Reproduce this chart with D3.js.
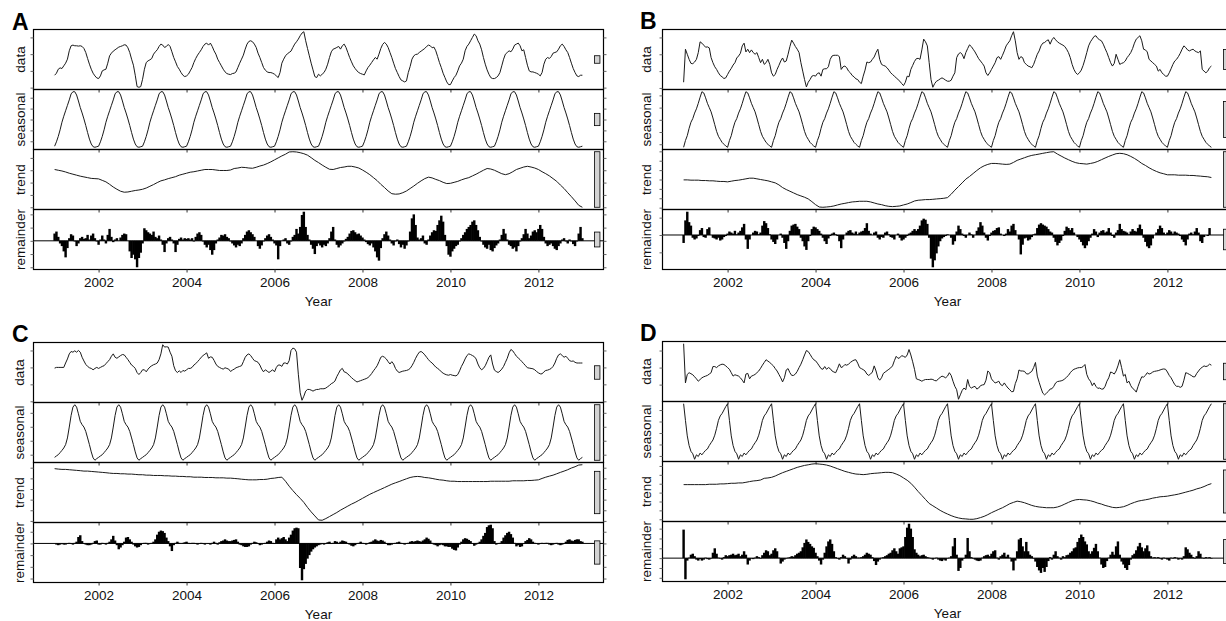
<!DOCTYPE html>
<html>
<head>
<meta charset="utf-8">
<script src="https://d3js.org/d3.v7.min.js"></script>
<style>
body { margin: 0; background: #fff; }
svg { display: block; font-family: "Liberation Sans", Arial, sans-serif; }
</style>
</head>
<body>
<div id="chart"></div>
<script>
// four STL decompositions, 24 obs per year from 2001.0 to 2013.0
var startYear = 2001, perYear = 24, trendPerYear = 12;
var years = [2002, 2004, 2006, 2008, 2010, 2012];
var rowNames = ["data", "seasonal", "trend", "remainder"];

// ---------- A ----------
var aData = [
37,43,55,59,57,65,73,85,110,125,127,125,125,124,125,123,117,105,87,70,55,43,35,29,
27,35,50,53,55,73,95,103,109,113,117,121,123,125,128,127,119,105,85,67,37,3,1,3,
25,55,75,80,83,87,100,107,113,123,130,127,120,123,129,123,107,90,77,63,55,45,37,33,
35,40,50,60,75,87,97,105,113,123,130,133,127,133,123,110,100,85,75,65,55,47,42,40,
39,42,43,47,60,73,85,97,115,130,138,140,137,130,120,103,90,75,60,52,47,45,45,43,
40,35,30,45,73,85,95,101,105,109,120,130,137,145,155,163,167,140,117,95,73,53,33,30,
40,35,40,45,55,70,90,107,115,117,120,123,115,125,130,120,105,90,77,65,57,50,45,42,
40,38,50,60,67,75,83,90,85,100,117,129,135,130,120,105,90,73,57,45,33,23,20,17,
20,45,63,85,95,99,100,105,109,113,117,123,127,125,119,121,110,93,75,60,43,30,17,9,
9,20,30,37,50,65,73,85,110,123,130,140,150,160,155,140,130,113,90,70,53,40,30,27,
27,30,35,45,65,85,100,105,110,107,115,127,130,133,125,110,113,90,67,50,47,47,45,43,
40,35,45,70,85,90,87,93,103,105,107,115,125,130,123,113,105,90,73,57,45,35,33,37,37
];
// periodic seasonal: one year, repeated every year
var aSeasonalCycle = [-49,-41,-31,-19,-5,6,16,26,36,47,51,51,45,34,22,12,1,-11,-24,-36,-45,-50,-51,-50];
var aTrend = [
15.3,15.0,14.7,14.3,13.8,13.4,13.0,12.6,12.3,12.0,11.7,11.6,
11.5,10.9,10.3,9.3,8.2,7.3,6.5,6.1,6.2,6.5,6.8,7.0,
7.3,7.8,8.5,9.2,10.0,10.7,11.1,11.6,12.0,12.4,13.0,13.4,
13.8,14.2,14.4,14.7,15.0,15.3,15.3,15.3,15.1,14.9,14.9,14.9,
15.1,15.7,15.9,16.2,16.1,15.9,15.8,16.2,16.7,17.1,17.7,18.4,
19.2,20.0,20.8,21.5,22.4,22.5,22.4,22.1,21.7,21.1,20.1,19.0,
18.1,17.1,16.2,15.4,15.3,15.7,16.1,16.3,16.6,16.6,16.3,15.9,
15.1,14.2,13.2,12.0,10.8,9.3,8.0,6.6,5.5,5.3,5.4,5.9,
6.6,7.6,8.6,9.7,10.7,11.6,12.2,11.9,11.3,10.8,10.1,9.6,
9.7,10.1,10.5,11.1,11.6,12.0,12.7,13.4,14.2,15.0,15.7,15.5,
15.0,14.3,13.6,13.2,13.6,14.4,15.3,15.8,16.3,16.6,16.3,15.9,
15.3,14.4,13.6,12.7,11.6,10.5,9.0,7.6,5.9,4.3,2.6,0.8,
0
];
var aRemainder = [
11,14,6,-4,-8,-16,-25,-11,4,10,8,-1,-8,-4,4,6,3,4,9,2,8,11,4,-1,
-6,2,8,2,-4,9,18,6,-2,2,4,0,5,9,11,10,0,-16,-26,-21,-28,-40,-26,-18,
-4,19,16,13,11,9,14,6,4,8,2,-6,-17,-4,4,6,2,-4,-17,-6,3,5,2,4,
3,4,2,4,-1,6,11,13,9,-1,-6,-10,-6,-14,-21,-14,-4,2,5,9,8,10,6,4,
-1,-4,-7,-10,-6,-8,-4,4,9,14,16,13,10,6,0,-8,-12,-7,-1,4,8,10,6,2,
-4,-7,-28,-8,0,2,4,-4,-6,-1,6,9,18,11,21,39,44,21,9,2,-6,-12,-20,-8,
-4,-7,-10,-6,-8,-4,4,14,21,2,-6,-10,-7,-4,-1,3,6,11,15,16,13,10,11,8,
5,2,-2,-5,-7,-4,-10,-16,-25,-30,-11,4,10,14,8,2,-4,-7,-1,2,-5,-10,-6,-12,
-7,-1,14,34,40,24,5,2,4,8,-4,-6,2,8,13,16,15,24,31,38,29,9,-8,-21,
-24,-16,-12,-8,-6,-1,4,9,13,18,21,24,29,31,24,16,6,-1,-6,-10,-12,-6,-14,-16,
-11,-7,-4,2,9,18,11,2,-6,-8,-12,-10,-16,-8,-1,4,10,18,11,4,8,14,16,13,
18,24,18,6,-4,-8,-6,-4,-8,-12,-14,-8,-4,2,4,-1,-4,2,-1,-5,-8,-1,11,21,4
];

// ---------- B ----------
var bData = [
17,115,100,85,73,72,77,85,105,137,133,127,121,122,119,90,75,63,55,45,37,33,28,30,
40,50,58,68,75,89,95,103,125,133,107,115,105,113,105,100,105,90,75,85,70,75,85,70,
45,35,40,55,67,80,89,77,80,100,123,142,133,123,115,105,75,50,25,3,17,25,35,37,
35,43,45,35,55,57,57,63,85,95,97,97,97,93,55,63,65,60,50,45,37,33,27,25,
17,13,35,53,77,75,77,85,92,105,115,85,70,67,65,60,53,45,40,35,30,25,20,13,
7,17,35,33,55,67,79,87,88,85,113,145,137,125,75,25,2,13,20,23,27,30,27,23,
20,20,23,35,45,90,101,105,100,87,105,117,128,123,115,107,97,87,80,73,65,45,37,45,
55,65,75,90,93,85,97,110,125,133,140,155,167,140,105,85,93,90,75,70,65,63,60,70,
85,100,110,125,133,135,140,143,130,143,150,143,137,133,130,127,123,115,105,90,70,55,45,40,
45,53,67,85,105,125,137,145,153,155,147,143,140,130,117,105,90,75,65,73,100,85,70,73,
75,80,90,97,105,117,133,145,150,155,140,115,113,107,85,80,75,70,65,50,55,45,40,35,
35,45,57,70,80,85,93,103,115,125,120,113,110,113,115,110,107,105,110,55,50,45,50,60,65
];
var bSeasonalCycle = [-45,-34,-26,-14,-4,2,11,18,27,37,46,44,36,27,20,13,3,-8,-19,-27,-32,-37,-40,-43];
var bTrend = [
29.6,29.6,29.3,29.3,29.3,28.9,28.9,28.6,28.6,28.2,27.9,27.9,
27.5,28.2,28.9,29.3,30.0,30.7,31.4,31.4,30.7,30.0,29.3,28.6,
27.5,26.4,24.3,21.4,19.3,17.5,15.7,13.9,12.5,11.1,9.3,6.4,
3.2,0.7,0.4,0.7,1.1,1.8,2.9,3.9,4.6,5.4,6.1,6.4,
6.8,6.8,6.8,6.1,5.0,3.9,3.2,2.1,1.4,1.1,1.4,1.8,
2.9,3.9,5.4,7.1,7.9,8.2,8.6,8.6,8.9,9.3,9.6,10.0,
10.7,14.3,18.6,22.5,26.4,30.4,33.2,36.4,39.6,42.5,44.6,46.1,
47.1,47.1,46.8,46.4,46.1,46.4,48.2,50.4,51.8,53.2,54.6,55.7,
56.4,57.1,57.9,58.6,59.3,59.6,57.1,55.0,52.9,51.1,49.3,47.9,
47.1,46.8,46.4,47.1,47.9,49.3,51.1,52.9,54.6,56.1,57.5,57.9,
57.5,56.4,54.6,52.5,50.0,47.1,45.0,42.5,40.4,38.6,37.1,36.1,
35.0,35.0,35.0,34.6,34.6,34.6,34.3,34.3,33.9,33.6,33.2,32.9,
32.1
];
var bRemainder = [
-23,42,67,37,27,-8,-13,-10,-3,14,20,-6,-8,17,22,0,-8,-10,-13,-8,-16,-13,-6,-3,
4,10,7,4,12,2,7,12,22,32,-13,-40,-13,0,7,12,10,2,7,27,40,34,20,2,
-13,-20,-26,-13,0,4,-8,-23,-40,-18,12,27,30,32,24,17,-8,-18,-33,-43,-18,-3,17,24,
22,17,12,4,-8,-18,-26,-10,-3,4,7,2,-3,-18,-38,-13,0,7,12,14,7,4,10,2,
7,10,12,20,34,12,4,0,7,10,-8,-13,-6,-8,7,10,2,-6,-8,-13,0,4,-8,-16,
-13,-8,-3,4,7,12,17,12,17,27,42,47,44,32,-8,-68,-93,-73,-53,-33,-18,-10,-6,-3,
2,0,-8,-28,-18,10,27,17,4,-3,-8,0,7,2,-8,0,12,22,37,27,7,-8,-16,-3,
7,12,14,20,22,4,0,-3,4,17,10,27,32,14,0,-13,-56,-28,-10,-8,-16,-13,-6,2,
4,20,30,34,30,27,24,17,10,7,-8,-20,-30,-23,-16,-3,12,24,20,14,20,7,0,-6,
-13,-20,-30,-38,-30,-18,-8,4,17,10,-6,7,12,14,7,10,20,7,-3,-8,7,14,32,17,
12,10,7,2,10,17,12,10,20,30,17,-8,-20,-33,-38,-30,-10,0,7,17,27,20,7,2,
7,14,10,4,10,7,4,-3,-13,-20,-30,-13,4,7,2,10,20,7,-18,-23,-6,0,-3,20,0
];

// ---------- C ----------
var cData = [
98,100,100,100,100,100,113,125,140,147,145,149,145,150,145,130,119,109,103,99,97,93,97,100,
97,100,103,105,111,117,123,133,140,130,127,131,135,138,137,130,123,115,107,103,97,85,79,85,
93,93,87,95,101,105,108,110,113,123,140,167,160,161,160,145,133,105,90,85,90,85,91,89,
93,97,97,100,107,111,117,123,130,135,139,143,127,131,130,121,110,103,100,97,95,99,97,95,
88,92,95,99,101,103,105,117,130,137,140,135,127,120,118,115,107,95,87,93,89,85,89,93,
87,100,107,107,103,113,113,110,120,150,157,155,145,80,25,3,15,30,35,35,33,30,33,35,
35,37,37,37,39,43,47,52,55,60,73,83,93,97,87,85,81,75,70,65,61,57,59,61,
63,65,67,70,75,82,90,97,105,117,130,133,130,125,117,110,117,110,97,89,85,87,89,90,
91,93,97,105,115,127,137,145,147,143,137,130,123,117,113,107,101,97,93,87,83,80,78,77,
79,77,76,75,79,90,103,113,125,135,140,138,135,132,125,110,99,93,97,105,117,130,137,110,
92,88,85,89,95,103,115,127,143,153,149,141,133,128,123,117,111,105,99,98,97,96,93,88,
84,81,81,87,91,92,94,97,103,113,127,137,140,135,130,133,127,120,118,119,115,113,113,113,113
];
var cSeasonalCycle = [-11.9,-10.9,-10.0,-8.5,-6.9,-5.2,-2.8,2.0,9.8,18.1,24.1,25.8,24.1,19.3,13.9,11.5,9.8,6.7,2.0,-2.8,-8.0,-12.3,-14.0,-12.8];
var cTrend = [
49.1,48.7,48.4,48.4,48.1,47.8,47.5,47.2,46.8,46.8,46.5,46.2,
45.9,45.6,45.3,44.9,44.6,44.6,44.3,44.3,44.0,44.0,43.7,43.4,
43.4,43.0,43.0,42.7,42.7,42.7,42.4,42.4,42.1,42.1,41.8,41.8,
41.5,41.5,41.1,41.1,41.1,40.8,40.8,40.8,40.5,40.5,40.5,40.2,
40.2,39.9,39.6,39.2,38.9,38.6,38.6,38.6,38.9,38.9,39.2,39.9,
40.2,40.8,41.1,37.3,32.6,28.5,24.7,21.2,17.4,12.7,8.5,4.7,
0.9,0.6,2.2,4.1,6.0,7.9,10.1,12.0,13.9,15.8,17.4,19.3,
21.2,23.1,25.0,26.6,28.2,29.7,31.3,32.9,34.5,35.8,37.0,38.3,
39.6,40.8,41.5,41.8,41.5,40.8,40.5,39.9,39.2,38.6,38.3,37.7,
37.3,37.3,37.0,37.0,37.0,37.0,37.0,37.0,37.0,37.0,37.0,37.3,
37.3,37.3,37.3,37.3,37.3,37.7,37.7,37.7,37.7,38.0,38.0,38.3,
38.6,39.9,41.1,42.1,43.0,44.3,45.6,46.8,48.1,49.7,50.9,52.5,
52.8
];
var cRemainder = [
0,-2,-3,-2,-1,-2,-2,-1,1,-1,-2,1,3,11,14,4,-1,-2,-3,-3,-2,1,4,5,
-2,-2,1,-1,-2,1,3,7,13,5,-3,-10,-7,-3,3,10,11,7,3,-2,-5,-7,-6,-3,
-1,1,1,-2,-1,1,3,7,15,20,22,21,18,10,4,-5,-13,-3,1,3,1,0,1,2,
3,1,-1,1,1,-1,-2,-1,1,-1,-2,0,-1,-2,1,3,1,-2,2,4,5,7,5,4,
4,5,6,7,3,-2,-3,-5,-6,-6,-5,-2,1,3,2,-1,-3,-2,-1,1,3,5,4,1,
-1,7,10,7,9,11,7,4,10,15,22,26,27,26,-42,-63,-44,-35,-26,-20,-14,-10,-7,-5,
-3,-2,-1,-2,-1,2,3,-1,1,4,3,1,3,5,4,3,-1,-2,-4,-5,-3,-1,1,3,
1,-1,-2,-1,2,3,5,7,5,4,6,5,3,-1,-3,-3,-2,-1,1,2,3,1,-1,-2,
-1,1,3,4,3,4,5,4,3,5,7,10,8,5,1,-2,-3,-5,-3,-2,-3,-5,-5,-6,
-6,-9,-11,-12,-7,-2,3,7,9,8,6,4,-1,-4,-2,1,3,7,13,18,28,31,32,26,
4,-2,-1,1,4,10,14,18,20,16,10,1,-5,-3,-6,-5,-1,4,6,9,7,3,1,-1,
-2,-1,1,-1,1,1,-2,-3,-2,-1,1,-2,-3,-2,-1,3,6,7,5,4,6,7,7,4,3
];

// ---------- D ----------
var dData = [
170,55,80,85,82,79,73,67,60,65,70,73,75,77,81,85,103,103,100,105,108,110,109,105,
100,95,85,75,79,77,75,70,63,55,81,83,67,75,77,80,85,90,98,107,115,123,119,115,
110,105,97,90,80,70,58,70,93,97,85,77,77,81,89,100,110,123,137,150,147,139,130,123,
120,113,105,97,95,103,95,100,97,90,87,85,97,111,100,103,109,107,110,115,119,122,123,113,
100,97,94,90,81,77,81,87,105,90,70,63,70,83,87,91,95,99,105,120,133,127,129,135,
133,130,137,153,137,117,95,67,65,63,60,63,65,65,65,66,65,62,61,67,71,75,73,70,
75,85,77,60,45,35,7,20,33,40,35,65,45,40,43,45,37,40,47,49,50,63,90,85,
67,60,55,57,60,50,47,55,47,40,35,29,30,53,67,93,90,90,89,82,81,85,89,100,
115,75,57,40,25,20,25,30,37,38,45,55,59,60,61,63,67,72,77,85,91,95,97,99,
100,100,103,109,80,67,60,47,55,45,39,40,37,37,45,60,70,87,85,81,90,105,123,100,
75,80,55,60,47,39,35,28,45,60,73,72,77,85,81,83,87,89,90,91,93,95,96,95,
87,77,70,60,50,45,45,42,45,63,85,83,80,77,73,73,83,90,97,101,105,103,105,110,107
];
var dSeasonalCycle = [25.5,11.0,-2.5,-10.9,-16.0,-18.1,-22.9,-19.0,-20.5,-17.5,-19.0,-16.9,-15.1,-13.9,-10.9,-8.5,-6.1,-1.9,4.1,11.0,14.9,17.0,20.0,23.0];
var dTrend = [
39.0,39.0,39.0,39.0,39.0,39.0,39.0,39.4,39.4,39.4,39.8,39.8,
40.1,40.5,40.5,40.9,40.9,41.6,42.4,43.1,43.5,44.2,46.1,46.5,
47.2,48.7,50.6,52.4,53.9,55.4,56.9,58.4,59.5,60.6,61.3,62.1,
62.5,62.1,61.7,61.0,59.9,58.4,56.9,55.4,53.9,52.8,51.7,50.9,
50.6,50.2,50.6,51.3,51.7,52.0,52.4,52.8,52.8,52.4,50.9,49.1,
46.5,43.9,40.5,36.1,31.2,26.8,22.3,17.8,15.2,12.6,10.0,7.8,
5.9,4.1,2.6,1.5,0.7,0.4,0,0,0.7,1.9,3.3,5.2,
7.4,9.3,11.2,13.0,15.2,17.5,19.0,20.4,19.7,18.6,17.1,15.6,
14.5,13.8,13.4,13.0,13.0,13.0,13.8,15.2,17.1,19.0,20.8,21.9,
22.3,21.9,21.6,20.8,19.7,18.2,17.1,15.6,14.5,13.4,13.0,13.4,
14.1,15.6,17.5,19.0,20.4,21.2,21.9,22.7,23.8,24.5,25.3,25.6,
26.0,26.8,27.5,28.3,29.4,30.5,31.6,32.7,34.2,35.3,36.8,38.7,
40.1
];
var dRemainder = [
58,-43,-5,1,7,9,4,-3,-5,-2,-5,-3,1,-2,-3,-1,11,20,9,1,-1,-3,2,6,
4,6,7,9,6,7,9,4,7,14,7,-13,-5,-1,-2,1,4,2,-1,6,11,16,14,6,
9,16,20,14,1,-11,-7,-3,-1,1,2,4,3,6,9,11,14,22,31,38,33,29,24,21,
11,4,-5,-13,-3,11,24,34,38,29,14,2,-1,-3,2,7,4,-1,-11,-3,4,7,4,1,
1,2,4,7,11,9,7,2,-6,-14,-7,-3,1,2,4,6,9,11,16,20,14,9,20,22,
24,43,62,70,60,43,18,11,7,4,6,7,4,2,1,-1,-3,-1,1,-3,-5,-6,-3,-5,
-1,1,4,24,41,7,-26,-20,-5,-1,7,41,14,2,-1,-3,-5,-6,-5,1,4,6,7,4,
9,14,16,1,-3,4,7,11,3,7,1,-7,-25,-5,14,38,41,24,14,33,14,7,4,-1,
-7,-18,-25,-30,-20,-28,-18,-6,2,-3,7,14,4,1,-3,4,2,6,7,11,14,20,22,33,
41,48,43,34,28,14,9,14,21,29,14,1,-13,-20,-18,-6,1,7,13,7,24,34,7,-7,
-13,-20,-24,-14,-3,6,9,16,24,31,22,14,20,26,14,4,1,2,1,2,-1,-3,1,-1,
-3,-5,1,-1,2,1,-3,-1,-3,4,22,18,11,7,2,-1,4,14,9,1,-1,2,1,2,-1
];

// layout
var W = 570, rowH = 60;
var font = "Liberation Sans, Arial, sans-serif";

var panels = [
  {letter: "A", left: 33, top: 29, letterX: 12, letterY: 29.5, labelDx: -9,
   data: aData, seasonal: aSeasonalCycle, trend: aTrend, remainder: aRemainder},
  {letter: "B", left: 662, top: 29, letterX: 640, letterY: 29, labelDx: -12,
   data: bData, seasonal: bSeasonalCycle, trend: bTrend, remainder: bRemainder},
  {letter: "C", left: 33, top: 342, letterX: 12, letterY: 341.5, labelDx: -10,
   data: cData, seasonal: cSeasonalCycle, trend: cTrend, remainder: cRemainder},
  {letter: "D", left: 662, top: 341, letterX: 640, letterY: 340.5, labelDx: -12,
   data: dData, seasonal: dSeasonalCycle, trend: dTrend, remainder: dRemainder}
];

var svg = d3.select("#chart")
  .append("svg")
  .attr("width", 1226)
  .attr("height", 621);

panels.forEach(drawPanel);

function drawPanel(p) {
  var tData = d3.range(p.data.length).map(function(i) { return startYear + i / perYear; });
  var series = [
    p.data.map(function(v, i) { return {t: tData[i], v: v}; }),
    tData.map(function(t, i) { return {t: t, v: p.seasonal[i % p.seasonal.length]}; }),
    p.trend.map(function(v, j) { return {t: startYear + j / trendPerYear, v: v}; }),
    p.remainder.map(function(v, i) { return {t: tData[i], v: v}; })
  ];

  var tExt = d3.extent(tData);
  var tPad = 0.04 * (tExt[1] - tExt[0]);
  var x = d3.scaleLinear().domain([tExt[0] - tPad, tExt[1] + tPad]).range([0, W]);

  var ranges = series.map(function(s) { return d3.extent(s, function(d) { return d.v; }); });
  var mx = d3.min(ranges, function(r) { return r[1] - r[0]; });

  var g = svg.append("g")
    .attr("transform", "translate(" + (p.left + 0.5) + "," + (p.top + 0.5) + ")");

  series.forEach(function(s, r) {
    var r0 = r * rowH, r1 = (r + 1) * rowH;
    var ext = ranges[r], yPad = 0.04 * (ext[1] - ext[0]);
    var y = d3.scaleLinear().domain([ext[0] - yPad, ext[1] + yPad]).range([r1, r0]);
    var row = g.append("g");

    if (r < 3) {
      row.append("path")
        .datum(s)
        .attr("fill", "none")
        .attr("stroke", "#1a1a1a")
        .attr("stroke-width", 1)
        .attr("d", d3.line().x(function(d) { return x(d.t); }).y(function(d) { return y(d.v); }));
    } else {
      // bars slightly wider than the step so they join up like type = "h"
      var bw = x(startYear + 1 / perYear) - x(startYear);
      row.selectAll(".bar")
        .data(s)
        .enter()
        .append("rect")
        .attr("class", "bar")
        .attr("x", function(d) { return x(d.t) - bw / 2 - 0.3; })
        .attr("width", bw + 0.6)
        .attr("y", function(d) { return Math.min(y(0), y(d.v)); })
        .attr("height", function(d) { return Math.abs(y(d.v) - y(0)); })
        .attr("fill", "#000");
      row.append("line")
        .attr("x1", 0).attr("x2", W)
        .attr("y1", y(0)).attr("y2", y(0))
        .attr("stroke", "#000");
    }

    row.append("rect")
      .attr("x", 0).attr("y", r0)
      .attr("width", W).attr("height", rowH)
      .attr("fill", "none")
      .attr("stroke", "#000")
      .attr("stroke-width", 1.2);

    // unlabelled y ticks on both sides
    var yl = row.append("g").call(d3.axisLeft(y).ticks(5).tickSize(3).tickFormat(""));
    var yr = row.append("g").attr("transform", "translate(" + W + ",0)")
      .call(d3.axisRight(y).ticks(5).tickSize(3).tickFormat(""));
    [yl, yr].forEach(function(a) {
      a.select(".domain").remove();
      a.selectAll("line").attr("stroke", "#666");
    });

    var xa = row.append("g")
      .attr("transform", "translate(0," + r1 + ")")
      .call(d3.axisBottom(x).tickValues(years).tickSize(3).tickPadding(5)
        .tickFormat(r === 3 ? d3.format("d") : ""));
    xa.select(".domain").remove();
    xa.selectAll("line").attr("stroke", "#333");
    xa.attr("font-size", 13.5).attr("font-family", font);
    xa.selectAll("text").attr("fill", "#111");

    // range bar (same data height in every row)
    var ux = x.domain()[1], dx = (x.domain()[1] - x.domain()[0]) / 64;
    var mid = (ext[0] + ext[1]) / 2;
    row.append("rect")
      .attr("x", x(ux - dx))
      .attr("width", x(ux - 0.4 * dx) - x(ux - dx))
      .attr("y", y(mid + mx / 2))
      .attr("height", y(mid - mx / 2) - y(mid + mx / 2))
      .attr("fill", "#d3d3d3")
      .attr("stroke", "#000")
      .attr("stroke-width", 0.8);

    row.append("text")
      .attr("transform", "translate(" + p.labelDx + "," + (r0 + rowH / 2) + ") rotate(-90)")
      .attr("text-anchor", "middle")
      .attr("font-size", 13.5)
      .attr("font-family", font)
      .attr("fill", "#111")
      .text(rowNames[r]);
  });

  g.append("text")
    .attr("x", W / 2)
    .attr("y", 4 * rowH + 36.5)
    .attr("text-anchor", "middle")
    .attr("font-size", 13.5)
    .attr("font-family", font)
    .attr("fill", "#111")
    .text("Year");

  svg.append("text")
    .attr("x", p.letterX)
    .attr("y", p.letterY)
    .attr("font-size", 23)
    .attr("font-weight", "bold")
    .attr("font-family", font)
    .attr("fill", "#000")
    .text(p.letter);
}
</script>
</body>
</html>
